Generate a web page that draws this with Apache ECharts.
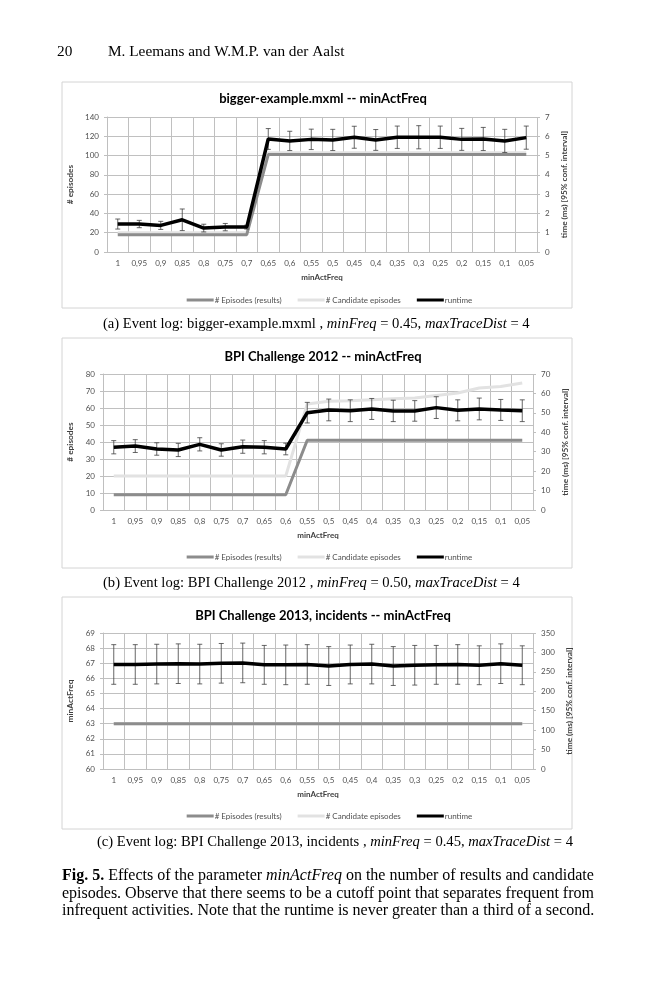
<!DOCTYPE html>
<html>
<head>
<meta charset="utf-8">
<script src="https://cdn.jsdelivr.net/npm/echarts@6/dist/echarts.min.js"></script>
<style>
  html, body { margin: 0; padding: 0; background: #fff; }
  #page { width: 659px; height: 1000px; }
</style>
</head>
<body>
<div id="page"></div>
<script>
// minActFreq 取值 (x 轴)
const freqs = ['1', '0,95', '0,9', '0,85', '0,8', '0,75', '0,7', '0,65', '0,6', '0,55',
    '0,5', '0,45', '0,4', '0,35', '0,3', '0,25', '0,2', '0,15', '0,1', '0,05']

// (a) bigger-example.mxml
const bigResults = [18, 18, 18, 18, 18, 18, 18, 101, 101, 101, 101, 101, 101, 101, 101, 101, 101, 101, 101, 101]
const bigCandidates = [20, 20, 20, 20, 20, 20, 20, 103, 103, 103, 103, 103, 103, 103, 103, 103, 103, 103, 103, 103]
const bigRuntime = [1.45, 1.45, 1.38, 1.67, 1.24, 1.29, 1.29, 5.86, 5.76, 5.84, 5.81, 5.95, 5.81, 5.95, 5.95, 5.95, 5.84, 5.86, 5.76, 5.93]
const bigError = [0.26, 0.19, 0.21, 0.56, 0.2, 0.19, 0.1, 0.54, 0.5, 0.53, 0.55, 0.57, 0.54, 0.58, 0.6, 0.58, 0.57, 0.6, 0.6, 0.6]

// (b) BPI Challenge 2012
const bpi12Results = [9, 9, 9, 9, 9, 9, 9, 9, 9, 41, 41, 41, 41, 41, 41, 41, 41, 41, 41, 41]
const bpi12Candidates = [20, 20, 20, 20, 20, 20, 20, 20, 20, 62.4, 64, 64.3, 64.9, 65.5, 65.9, 67.4, 68.8, 71.8, 72.7, 74.7]
const bpi12Runtime = [32.3, 32.9, 31.4, 30.9, 33.8, 30.9, 32.6, 32.3, 31.4, 50.1, 51.5, 51.1, 52, 51, 51, 52.7, 51.3, 52, 51.5, 51.1]
const bpi12Error = [3.4, 3.3, 3.2, 3.4, 3.4, 3.2, 3.4, 3.4, 3, 5.3, 5.6, 5.6, 5.4, 5.5, 5.3, 5.6, 5.4, 5.6, 5.4, 5.6]

// (c) BPI Challenge 2013, incidents
const bpi13Results = [63, 63, 63, 63, 63, 63, 63, 63, 63, 63, 63, 63, 63, 63, 63, 63, 63, 63, 63, 63]
const bpi13Candidates = [63, 63, 63, 63, 63, 63, 63, 63, 63, 63, 63, 63, 63, 63, 63, 63, 63, 63, 63, 63]
const bpi13Runtime = [269, 269, 270, 271, 270, 272, 273, 268, 268, 269, 265, 269, 270, 265, 267, 268, 269, 267, 271, 267]
const bpi13Error = [51, 51, 51, 51, 51, 51, 51, 50, 51, 51, 50, 50, 51, 50, 51, 50, 51, 50, 51, 50]

const legendNames = ['# Episodes (results)', '# Candidate episodes', 'runtime']

const sans = 'Lato'
const serif = 'Liberation Serif'
const labelColor = '#505050'
const gridColor = '#c0c0c0'

const panels = [
    {
        title: 'bigger-example.mxml -- minActFreq', titleTop: 87,
        grid: { left: 107, top: 117, width: 430, height: 135 },
        leftName: '# episodes', leftMin: 0, leftMax: 140, leftStep: 20,
        rightMin: 0, rightMax: 7, rightStep: 1,
        results: bigResults, candidates: bigCandidates, runtime: bigRuntime, error: bigError,
        legendTop: 291
    },
    {
        title: 'BPI Challenge 2012 -- minActFreq', titleTop: 345,
        grid: { left: 103, top: 374, width: 430, height: 136 },
        leftName: '# episodes', leftMin: 0, leftMax: 80, leftStep: 10,
        rightMin: 0, rightMax: 70, rightStep: 10,
        results: bpi12Results, candidates: bpi12Candidates, runtime: bpi12Runtime, error: bpi12Error,
        legendTop: 548
    },
    {
        title: 'BPI Challenge 2013, incidents -- minActFreq', titleTop: 604,
        grid: { left: 103, top: 633, width: 430, height: 136 },
        leftName: 'minActFreq', leftMin: 60, leftMax: 69, leftStep: 1,
        rightMin: 0, rightMax: 350, rightStep: 50,
        results: bpi13Results, candidates: bpi13Candidates, runtime: bpi13Runtime, error: bpi13Error,
        legendTop: 807
    }
]

const option = {
    animation: false,
    backgroundColor: '#fff',
    title: [],
    legend: [],
    grid: [],
    xAxis: [],
    yAxis: [],
    series: [],
    graphic: []
}

panels.forEach((p, i) => {
    option.title.push({
        text: p.title,
        left: 318,
        top: p.titleTop,
        textAlign: 'center',
        textStyle: { fontFamily: sans, fontWeight: 'bold', fontSize: 13, color: '#000' }
    })
    option.legend.push({
        data: legendNames,
        top: p.legendTop,
        left: 'center',
        itemWidth: 27,
        itemHeight: 3,
        itemGap: 16,
        icon: 'rect',
        selectedMode: false,
        textStyle: { fontFamily: sans, fontSize: 8, color: labelColor, padding: [0, 0, 0, -4] }
    })
    option.grid.push(p.grid)
    option.xAxis.push({
        type: 'category',
        gridIndex: i,
        data: freqs,
        name: 'minActFreq',
        nameLocation: 'middle',
        nameGap: 21,
        nameTextStyle: { fontFamily: sans, fontWeight: 'bold', fontSize: 8, color: '#404040' },
        axisLine: { lineStyle: { color: '#bfbfbf' } },
        axisTick: { show: false },
        axisLabel: { fontFamily: sans, fontSize: 8, color: labelColor, margin: 7 },
        splitLine: { show: true, lineStyle: { color: gridColor, width: 1 } }
    })
    option.yAxis.push({
        type: 'value',
        gridIndex: i,
        position: 'left',
        min: p.leftMin, max: p.leftMax, interval: p.leftStep,
        name: p.leftName,
        nameLocation: 'middle',
        nameRotate: 90,
        nameGap: 22,
        nameTextStyle: { fontFamily: sans, fontWeight: 'bold', fontSize: 8.3, color: '#404040' },
        axisLine: { show: true, lineStyle: { color: '#bfbfbf' } },
        axisTick: { show: true, length: 3, lineStyle: { color: '#bfbfbf' } },
        axisLabel: { fontFamily: sans, fontSize: 8, color: labelColor, margin: 8 },
        splitLine: { show: true, lineStyle: { color: gridColor, width: 1 } }
    })
    option.yAxis.push({
        type: 'value',
        gridIndex: i,
        position: 'right',
        min: p.rightMin, max: p.rightMax, interval: p.rightStep,
        name: 'time (ms) [95% conf. interval]',
        nameLocation: 'middle',
        nameRotate: 90,
        nameGap: 23,
        nameTextStyle: { fontFamily: sans, fontWeight: 'bold', fontSize: 8.3, color: '#404040' },
        axisLine: { show: false },
        axisTick: { show: true, length: 3, lineStyle: { color: '#bfbfbf' } },
        axisLabel: { fontFamily: sans, fontSize: 8, color: labelColor, margin: 8 },
        splitLine: { show: false }
    })

    const leftIdx = i * 2
    const rightIdx = i * 2 + 1
    option.series.push({
        name: legendNames[0], type: 'line', xAxisIndex: i, yAxisIndex: leftIdx,
        data: p.results, symbol: 'none', z: 4,
        lineStyle: { color: '#8c8c8c', width: 3 }, itemStyle: { color: '#8c8c8c' }
    })
    option.series.push({
        name: legendNames[1], type: 'line', xAxisIndex: i, yAxisIndex: leftIdx,
        data: p.candidates, symbol: 'none', z: 3,
        lineStyle: { color: '#e2e2e2', width: 3 }, itemStyle: { color: '#e2e2e2' }
    })
    // 误差线 (95% 置信区间)
    option.series.push({
        type: 'custom', xAxisIndex: i, yAxisIndex: rightIdx, z: 5,
        data: p.runtime.map((v, k) => [k, v - p.error[k], v + p.error[k]]),
        renderItem: function (params, api) {
            const lo = api.coord([api.value(0), api.value(1)])
            const hi = api.coord([api.value(0), api.value(2)])
            const cap = 2.5
            const st = { stroke: '#404040', lineWidth: 0.8 }
            return {
                type: 'group',
                children: [
                    { type: 'line', shape: { x1: lo[0], y1: lo[1], x2: hi[0], y2: hi[1] }, style: st },
                    { type: 'line', shape: { x1: lo[0] - cap, y1: lo[1], x2: lo[0] + cap, y2: lo[1] }, style: st },
                    { type: 'line', shape: { x1: hi[0] - cap, y1: hi[1], x2: hi[0] + cap, y2: hi[1] }, style: st }
                ]
            }
        }
    })
    option.series.push({
        name: legendNames[2], type: 'line', xAxisIndex: i, yAxisIndex: rightIdx,
        data: p.runtime, symbol: 'none', z: 6,
        lineStyle: { color: '#000', width: 3.5 }, itemStyle: { color: '#000' }
    })
})

// 图框
const boxes = [[62, 82, 510, 226], [62, 338, 510, 230], [62, 597, 510, 232]]
boxes.forEach(b => {
    option.graphic.push({
        type: 'rect', z: -1,
        shape: { x: b[0], y: b[1], width: b[2], height: b[3] },
        style: { fill: 'none', stroke: '#d4d4d4', lineWidth: 1 }
    })
})

// 论文正文文字
const rich = {
    i: { fontFamily: serif, fontStyle: 'italic', fontSize: 14.6, fill: '#000' },
    b: { fontFamily: serif, fontWeight: 'bold', fontSize: 16, fill: '#000' },
    ii: { fontFamily: serif, fontStyle: 'italic', fontSize: 16, fill: '#000' }
}
function addText(x, y, text, size) {
    option.graphic.push({
        type: 'text', left: x, top: y,
        style: {
            text: text, x: 0, y: 0,
            font: size + 'px "' + serif + '"', fill: '#000',
            textAlign: 'left', textVerticalAlign: 'top', rich: rich
        }
    })
}
addText(57, 44, '20', 15.3)
addText(108, 44, 'M. Leemans and W.M.P. van der Aalst', 15.3)
addText(103, 317, '(a) Event log: bigger-example.mxml , {i|minFreq} = 0.45, {i|maxTraceDist} = 4', 14.6)
addText(103, 576, '(b) Event log: BPI Challenge 2012 , {i|minFreq} = 0.50, {i|maxTraceDist} = 4', 14.6)
addText(97, 835, '(c) Event log: BPI Challenge 2013, incidents , {i|minFreq} = 0.45, {i|maxTraceDist} = 4', 14.6)
addText(62, 868, '{b|Fig. 5.} Effects of the parameter {ii|minActFreq} on the number of results and candidate', 16)
addText(62, 886, 'episodes. Observe that there seems to be a cutoff point that separates frequent from', 16)
addText(62, 903, 'infrequent activities. Note that the runtime is never greater than a third of a second.', 16)

const myChart = echarts.init(document.querySelector('#page'), null, { renderer: 'canvas' })
myChart.setOption(option)
</script>
</body>
</html>
